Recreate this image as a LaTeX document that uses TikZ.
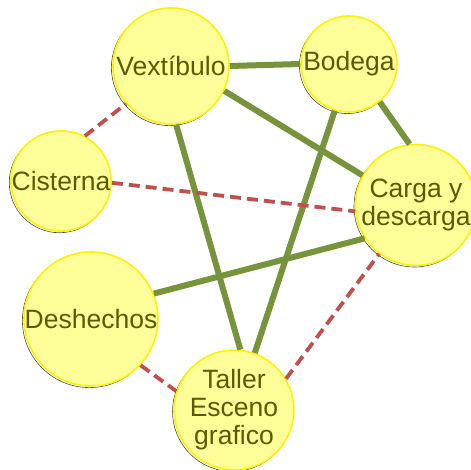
\documentclass[tikz,border=0pt]{standalone}
\usepackage{fontspec}
\setmainfont{Liberation Sans}
\usetikzlibrary{positioning,shadows}
\definecolor{roomfill}{RGB}{255,255,153}
\definecolor{roomtext}{RGB}{90,90,0}
\definecolor{linkgreen}{RGB}{119,147,60}
\definecolor{linkred}{RGB}{192,80,77}

\begin{document}
\begin{tikzpicture}[
  x=1pt, y=-1pt,
  font=\fontsize{26.5}{28}\selectfont,
  room/.style     = {circle, fill=roomfill, draw=yellow, line width=1.6pt,
                     text=roomtext, align=center, inner sep=0pt,
                     drop shadow={shadow xshift=-1.6pt, shadow yshift=-1.6pt,
                                  fill=none, draw=black!70, opacity=1,
                                  line width=0.6pt}},
  strong/.style   = {draw=linkgreen, line width=6pt},
  weak/.style     = {draw=linkred, line width=3.8pt,
                     dash pattern=on 11pt off 6pt},
]
\useasboundingbox (0,0) rectangle (471,470);

% ===== Rooms =====
\node[room, minimum size=116pt] (vex)  at (171,66)  {Vext\'ibulo};
\node[room, minimum size=96pt]  (bod)  at (349,64)  {Bodega};
\node[room, minimum size=94pt]  (cis)  at (61,181)  {Cisterna};
\node[room, minimum size=110pt] (carga) at (416,205) {Carga y\\descarga};
\node[room, minimum size=134pt] (desh) at (91,319)  {Deshechos};
\node[room, minimum size=118pt] (taller) at (234,410)
      {Taller\\Esceno\\grafico};

% ===== Strong relations (solid green) =====
\draw[strong] (vex.0)    -- (bod.180);
\draw[strong] (vex.-25)  -- (carga.151);
\draw[strong] (vex.-85)  -- (taller.84);
\draw[strong] (bod.-51)  -- (carga.96);
\draw[strong] (bod.-107) -- (taller.70);
\draw[strong] (desh.22)  -- (carga.-147);

% ===== Weak relations (dashed red) =====
\draw[weak] (cis.62)    -- (vex.220);
\draw[weak] (cis.-2)    -- (carga.186);
\draw[weak] (desh.-43)  -- (taller.162);
\draw[weak] (taller.31) -- (carga.233);

\end{tikzpicture}
\end{document}
